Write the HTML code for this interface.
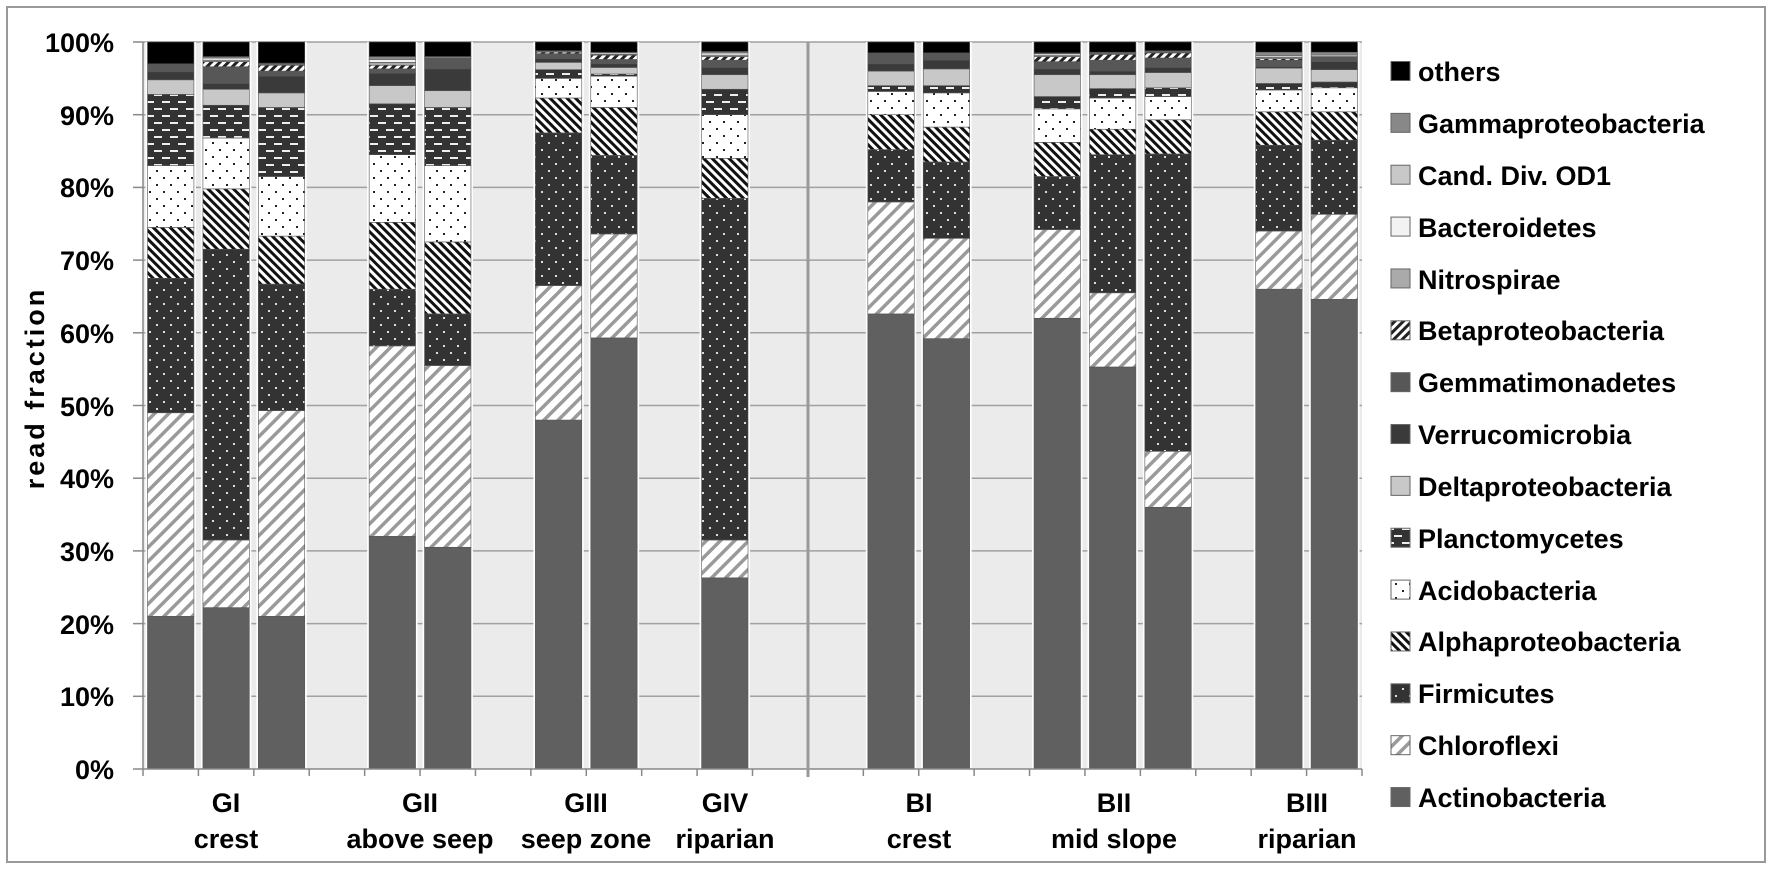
<!DOCTYPE html>
<html><head><meta charset="utf-8"><style>
html,body{margin:0;padding:0;background:#fff;}
svg{display:block;font-family:"Liberation Sans",Arial,sans-serif;font-weight:bold;}
</style></head><body>
<svg id="c" width="1772" height="870" viewBox="0 0 1772 870" xmlns="http://www.w3.org/2000/svg">
<defs>
<pattern id="pChl" width="10" height="10" patternUnits="userSpaceOnUse" patternTransform="rotate(45)"><rect width="10" height="10" fill="#fff"/><rect x="0" y="0" width="3.5" height="10" fill="#9a9a9a"/></pattern>
<pattern id="pFir" width="14" height="14" patternUnits="userSpaceOnUse"><rect width="14" height="14" fill="#333"/><rect x="2" y="2" width="2" height="2" fill="#ddd"/><rect x="9" y="9" width="2" height="2" fill="#ddd"/></pattern>
<pattern id="pAlp" width="6" height="6" patternUnits="userSpaceOnUse" patternTransform="rotate(-45)"><rect width="6" height="6" fill="#fff"/><rect x="0" y="0" width="3" height="6" fill="#111"/></pattern>
<pattern id="pAci" width="14" height="14" patternUnits="userSpaceOnUse"><rect width="14" height="14" fill="#fff"/><rect x="2" y="2" width="2" height="2" fill="#222"/><rect x="9" y="9" width="2" height="2" fill="#222"/></pattern>
<pattern id="pPla" width="16" height="14" patternUnits="userSpaceOnUse"><rect width="16" height="14" fill="#333"/><rect x="2" y="3" width="8" height="2" fill="#eee"/><rect x="10" y="10" width="8" height="2" fill="#eee"/><rect x="-6" y="10" width="8" height="2" fill="#eee"/></pattern>
<pattern id="pBet" width="6" height="6" patternUnits="userSpaceOnUse" patternTransform="rotate(45)"><rect width="6" height="6" fill="#fff"/><rect x="0" y="0" width="3" height="6" fill="#222"/></pattern>
</defs>
<rect x="7" y="7" width="1758" height="855" fill="#fff" stroke="#999" stroke-width="2"/>
<rect x="143" y="42" width="1219" height="727" fill="#ebebeb"/>
<g id="grid" stroke="#a0a0a0" stroke-width="1.5"></g>
<g id="bars"></g>
<g id="axes" stroke="#888" stroke-width="1.5"></g>
<line x1="808" y1="42" x2="808" y2="777" stroke="#999" stroke-width="3"/>
<g font-size="27" text-anchor="end">
<text x="114" y="52">100%</text><text x="114" y="125">90%</text><text x="114" y="197">80%</text><text x="114" y="270">70%</text><text x="114" y="343">60%</text><text x="114" y="416">50%</text><text x="114" y="488">40%</text><text x="114" y="561">30%</text><text x="114" y="634">20%</text><text x="114" y="706">10%</text><text x="114" y="779">0%</text>
</g>
<text transform="translate(44,388) rotate(-90)" font-size="27" letter-spacing="3" text-anchor="middle">read fraction</text>
<g font-size="27" text-anchor="middle">
<text x="226" y="812">GI</text><text x="226" y="848">crest</text>
<text x="420" y="812">GII</text><text x="420" y="848">above seep</text>
<text x="586" y="812">GIII</text><text x="586" y="848">seep zone</text>
<text x="725" y="812">GIV</text><text x="725" y="848">riparian</text>
<text x="919" y="812">BI</text><text x="919" y="848">crest</text>
<text x="1114" y="812">BII</text><text x="1114" y="848">mid slope</text>
<text x="1307" y="812">BIII</text><text x="1307" y="848">riparian</text>
</g>
<g id="legend"></g>
<g font-size="27">
<text x="1418" y="81">others</text>
<text x="1418" y="133">Gammaproteobacteria</text>
<text x="1418" y="185">Cand. Div. OD1</text>
<text x="1418" y="237">Bacteroidetes</text>
<text x="1418" y="289">Nitrospirae</text>
<text x="1418" y="340">Betaproteobacteria</text>
<text x="1418" y="392">Gemmatimonadetes</text>
<text x="1418" y="444">Verrucomicrobia</text>
<text x="1418" y="496">Deltaproteobacteria</text>
<text x="1418" y="548">Planctomycetes</text>
<text x="1418" y="600">Acidobacteria</text>
<text x="1418" y="651">Alphaproteobacteria</text>
<text x="1418" y="703">Firmicutes</text>
<text x="1418" y="755">Chloroflexi</text>
<text x="1418" y="807">Actinobacteria</text>
</g>
</svg>
<script>
var NS="http://www.w3.org/2000/svg";
function el(p,t,a){var e=document.createElementNS(NS,t);for(var k in a)e.setAttribute(k,a[k]);p.appendChild(e);return e;}
var X0=143,X1=1362,Y0=769,Y1=42,W=(X1-X0)/22,H=(Y0-Y1)/100;
var grid=document.getElementById('grid');
for(var i=1;i<=10;i++){var y=Y0-i*10*H;el(grid,'line',{x1:X0,x2:X1,y1:y,y2:y});}
var fills=['#606060','url(#pChl)','url(#pFir)','url(#pAlp)','url(#pAci)','url(#pPla)','#c8c8c8','#3a3a3a','#575757','url(#pBet)','#aaa','#f2f2f2','#c8c8c8','#888','#000'];
var data=[
[0,[21,49,67.5,74.5,83,92.8,94.8,95.9,97,97,97,97,97,97]],
[1,[22.2,31.5,71.5,79.8,86.8,91.3,93.5,94.3,96.6,97.3,97.5,97.8,97.8,98]],
[2,[21,49.3,66.7,73.3,81.5,91,93,95.3,96,96.8,96.9,97,97,97.1]],
[4,[32,58.2,66,75.2,84.5,91.5,94,95.7,96.3,96.8,97.2,97.6,97.6,98]],
[5,[30.5,55.5,62.6,72.5,83,91,93.3,96.3,97.8,97.8,97.8,97.8,97.8,98]],
[7,[48,66.5,87.5,92.3,95,96.2,97.2,97.7,98.4,98.6,98.7,98.8,98.8,98.8]],
[8,[59.3,73.6,84.4,91,95.3,95.6,96.5,97,97.6,98.2,98.3,98.5,98.5,98.6]],
[10,[26.3,31.5,78.5,84,90,93.5,95.5,96.5,97.5,98,98.2,98.5,98.5,98.7]],
[13,[62.6,78,85.2,90,93.2,94,96,97,98.5,98.5,98.5,98.5,98.5,98.5]],
[14,[59.2,73,83.5,88.3,93,94,96.3,97.5,98.5,98.5,98.5,98.5,98.5,98.5]],
[16,[62,74.2,81.5,86.2,90.8,92.5,95.5,96.3,97.3,98,98.2,98.4,98.4,98.5]],
[17,[55.3,65.5,84.5,88,92.3,93.6,95.5,96,97.5,98.3,98.4,98.5,98.5,98.6]],
[18,[36,43.7,84.6,89.3,92.5,93.7,95.8,96.5,97.8,98.5,98.6,98.7,98.7,98.8]],
[20,[66,74,85.8,90.4,93.4,94.3,96.4,96.6,97.5,97.7,97.9,98.1,98.1,98.6]],
[21,[64.6,76.3,86.5,90.4,93.7,94.5,96.2,97.3,98,98,98,98.2,98.2,98.6]]];
var bars=document.getElementById('bars');
data.forEach(function(d){
 var s=X0+d[0]*W;
 el(bars,'rect',{x:s+2.5,y:Y1,width:W-5,height:Y0-Y1,fill:'#fff'});
 var c=d[1].concat([100]),prev=0;
 for(var k=0;k<15;k++){var top=c[k];if(top>prev){
  el(bars,'rect',{x:s+4.5,y:Y0-top*H,width:W-9,height:(top-prev)*H,fill:fills[k],stroke:'#555','stroke-width':0.6});}
  prev=Math.max(prev,top);}
});
var ax=document.getElementById('axes');
el(ax,'line',{x1:X0,x2:X0,y1:Y1,y2:Y0});
el(ax,'line',{x1:X0,x2:X1,y1:Y0,y2:Y0});
for(var i=0;i<=10;i++){var y=Y0-i*10*H;el(ax,'line',{x1:X0-10,x2:X0,y1:y,y2:y});}
for(var i=0;i<=22;i++){var x=X0+i*W;el(ax,'line',{x1:x,x2:x,y1:Y0,y2:Y0+7});}
var lg=document.getElementById('legend');
var lf=['#000','#888','#c8c8c8','#f2f2f2','#aaa','url(#pBet)','#575757','#3a3a3a','#c8c8c8','url(#pPla)','url(#pAci)','url(#pAlp)','url(#pFir)','url(#pChl)','#606060'];
for(var i=0;i<15;i++){var cy=71+i*51.86;el(lg,'rect',{x:1391,y:cy-9.5,width:19,height:19,fill:lf[i],stroke:'#666','stroke-width':1});}
</script>
</body></html>
